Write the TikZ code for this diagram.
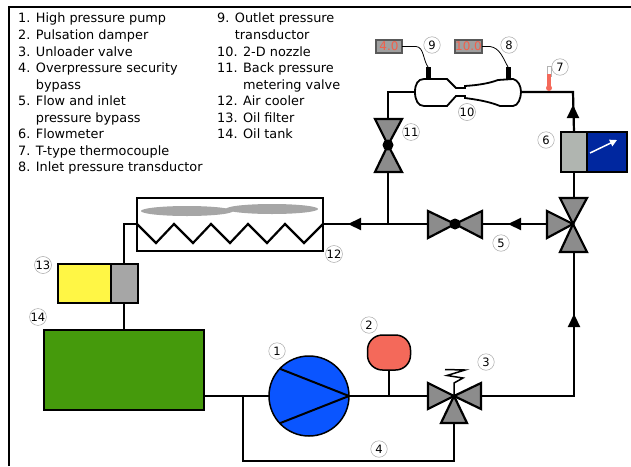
\documentclass[tikz,border=0pt]{standalone}
\usepackage{fontspec}
\setmainfont{DejaVu Sans}
\usetikzlibrary{arrows.meta,shapes.geometric}

\definecolor{valvegray}{HTML}{8C8C8C}
\definecolor{tankgreen}{HTML}{459A0C}
\definecolor{pumpblue}{HTML}{0A55FF}
\definecolor{damperred}{HTML}{F4695A}
\definecolor{meterblue}{HTML}{00279F}
\definecolor{metergray}{HTML}{B0B5B0}
\definecolor{filteryellow}{HTML}{FFF645}
\definecolor{filtergray}{HTML}{A6A6A6}
\definecolor{readoutred}{HTML}{F2604C}

\tikzset{
    pipe/.style={line width=2.2pt},
    flowhead/.style={line width=2.2pt, -{Triangle[length=13pt,width=12pt]}},
    valvepart/.style={draw, line width=2.2pt, fill=valvegray, line join=miter},
    box/.style={draw, line width=2.2pt, rectangle, inner sep=0pt, outer sep=0pt},
    readout/.style={draw=black!65, line width=1.2pt, fill=gray!75, rectangle, inner sep=0pt, outer sep=0pt,
        minimum height=13pt, text=readoutred, font=\fontsize{12}{12}\selectfont},
    numlabel/.style={draw=gray!70, line width=0.5pt, fill=white, circle, inner sep=0pt,
        minimum size=16.5pt, font=\fontsize{11.5}{11.5}\selectfont},
    legend/.style={anchor=north west, align=left, inner sep=0pt,
        font=\fontsize{12.85}{16.55}\selectfont}
}

\begin{document}
\begin{tikzpicture}[x=1pt, y=-1pt]
    \useasboundingbox (0,0) rectangle (631,466);

    % frame
    \coordinate (framebl) at (9,466);
    \coordinate (frametl) at (9,7);
    \coordinate (frametr) at (631,7);
    \draw[line width=2pt] (framebl) -- (frametl) -- (frametr);

    % legend
    \node[legend] (legendleft) at (18,13) {1. High pressure pump\\2. Pulsation damper\\3. Unloader valve\\4. Overpressure security\\\phantom{4. }bypass\\5. Flow and inlet\\\phantom{5. }pressure bypass\\6. Flowmeter\\7. T-type thermocouple\\8. Inlet pressure transductor};
    \node[legend] (legendright) at (217,13) {9. Outlet pressure\\\phantom{9. }transductor\\10. 2-D nozzle\\11. Back pressure\\\phantom{11. }metering valve\\12. Air cooler\\13. Oil filter\\14. Oil tank};

    % components
    \node[box, fill=tankgreen, minimum width=160pt, minimum height=80pt] (tank) at (124,370) {};
    \node[draw, line width=1.5pt, circle, fill=pumpblue, minimum size=80pt, inner sep=0pt, outer sep=0pt] (pump) at (309,396) {};
    \node[draw, line width=1.5pt, rectangle, rounded corners=15pt, fill=damperred, minimum width=43pt, minimum height=35pt, inner sep=0pt, outer sep=0pt] (damper) at (389,352.5) {};
    \node[box, fill=filteryellow, minimum width=53pt, minimum height=39pt] (filteroil) at (84.5,283.5) {};
    \node[box, fill=filtergray, minimum width=27pt, minimum height=39pt] (filtercore) at (124.5,283.5) {};
    \node[box, line width=2pt, minimum width=186pt, minimum height=53pt] (cooler) at (230,224.5) {};
    \node[box, fill=metergray, minimum width=26pt, minimum height=40pt] (metersensor) at (574,152) {};
    \node[box, fill=meterblue, minimum width=40pt, minimum height=40pt] (meterdial) at (607,152) {};
    \node[readout, minimum width=26pt] (readoutout) at (389,46.5) {4.0};
    \node[readout, minimum width=27pt] (readoutin) at (468.5,46.5) {10.0};

    \draw[line width=2pt] (pump.137) -- (pump.east) -- (pump.-137);
    \draw[-{Triangle[length=7pt,width=7pt]}, white, line width=1.5pt] (590,153) -- (617,140);

    % cooler fans and coil
    \node[fill=filtergray, ellipse, minimum width=92pt, minimum height=10pt, inner sep=0pt] (fanleft) at (187,211) {};
    \node[fill=filtergray, ellipse, minimum width=92pt, minimum height=10pt, inner sep=0pt] (fanright) at (272,209) {};
    \coordinate (coilin) at (323,224);
    \coordinate (coilout) at (137,224);
    \draw[pipe] (coilout) -- (156,243) -- (174,224) -- (193,243) -- (211,224) -- (230,243)
        -- (248,224) -- (267,243) -- (285,224) -- (304,243) -- (coilin);

    % valves
    \coordinate (unloader) at (454,396);
    \coordinate (bypass) at (455,224);
    \coordinate (threeway) at (573,224);
    \coordinate (backvalve) at (388,145);
    \draw[valvepart] (unloader) -- (428,383) -- (428,409) -- cycle;
    \draw[valvepart] (unloader) -- (481,383) -- (481,409) -- cycle;
    \draw[valvepart] (unloader) -- (441,423) -- (467,423) -- cycle;
    \draw[valvepart] (bypass) -- (428,211) -- (428,238) -- cycle;
    \draw[valvepart] (bypass) -- (482,211) -- (482,238) -- cycle;
    \draw[valvepart] (threeway) -- (547,211) -- (547,238) -- cycle;
    \draw[valvepart] (threeway) -- (560,198) -- (587,198) -- cycle;
    \draw[valvepart] (threeway) -- (560,252) -- (587,252) -- cycle;
    \draw[valvepart] (backvalve) -- (375,119) -- (402,119) -- cycle;
    \draw[valvepart] (backvalve) -- (375,172) -- (402,172) -- cycle;
    \fill (bypass) circle (5.5pt);
    \fill (backvalve) circle (5.5pt);
    \draw[line width=1.5pt] (unloader) -- (454,383) -- (463,378) -- (447,375.5) -- (465,370) -- (445,369.5);

    % nozzle
    \coordinate (nozzlein) at (521,92);
    \coordinate (nozzleout) at (415,92);
    \draw[line width=1.8pt, fill=white] (nozzleout) .. controls (415,84) and (418,79) .. (424,79) -- (447,79) -- (456,88) -- (465,88) -- (465,86)
        .. controls (480,85) and (490,83) .. (498,80) -- (513,79) .. controls (518,80) and (521,86) .. (nozzlein)
        .. controls (521,98) and (518,106) .. (513,106) -- (500,106) .. controls (490,102) and (480,100) .. (465,98)
        -- (465,96) -- (456,96) -- (447,106) -- (424,106) .. controls (418,106) and (415,100) .. (nozzleout) -- cycle;
    \coordinate (tapout) at (428,79);
    \coordinate (tapin) at (508,79);
    \coordinate (tapouttop) at (428,67);
    \coordinate (tapintop) at (508,67);
    \draw[line width=5pt] (tapout) -- (tapouttop);
    \draw[line width=5pt] (tapin) -- (tapintop);
    \draw[line width=0.8pt] (readoutout.east) -- (416,46.5) .. controls (424,47) and (423,60) .. (tapouttop);
    \draw[line width=0.8pt] (readoutin.east) -- (490,46.5) .. controls (500,48) and (503,58) .. (tapintop);

    % pipes
    \coordinate (bypassleft) at (243,396);
    \coordinate (bypassbl) at (243,461);
    \coordinate (bypassbr) at (454,461);
    \coordinate (unloaderright) at (574,396);
    \coordinate (topright) at (573,92);
    \coordinate (backtop) at (388,92);
    \coordinate (teeback) at (388,224);
    \coordinate (coolerbend) at (124,224);

    \draw[pipe] (pump.west -| tank.east) -- (pump.west);
    \draw[pipe] (pump.east) -- (428,396);
    \draw[pipe] (bypassleft) -- (bypassbl) -- (bypassbr) -- (454,423);
    \draw[pipe] (damper.south) -- (389,396);
    \draw[pipe] (481,396) -- (unloaderright) -- (574,252);
    \draw[pipe] (574,198) -- (metersensor.south);
    \draw[pipe] (metersensor.north) -- (topright) -- (nozzlein);
    \draw[pipe] (nozzleout) -- (backtop) -- (388,119);
    \draw[pipe] (388,172) -- (teeback);
    \draw[pipe] (547,224) -- (482,224);
    \draw[pipe] (428,224) -- (cooler.east |- coilin);
    \draw[pipe] (coilout) -- (coolerbend) -- (coolerbend |- filtercore.north);
    \draw[pipe] (coolerbend |- filtercore.south) -- (coolerbend |- tank.north);

    % flow arrows
    \coordinate (upbase) at (574,327);
    \coordinate (uptip) at (574,314);
    \coordinate (topbase) at (573,118);
    \coordinate (toptip) at (573,105);
    \coordinate (leftbase) at (521,224);
    \coordinate (lefttip) at (508,224);
    \coordinate (coolerbase) at (361,224);
    \coordinate (coolertip) at (348,224);
    \draw[flowhead] (upbase) -- (uptip);
    \draw[flowhead] (topbase) -- (toptip);
    \draw[flowhead] (leftbase) -- (lefttip);
    \draw[flowhead] (coolerbase) -- (coolertip);

    % thermocouple
    \coordinate (thermotip) at (549,88);
    \draw[gray!60, fill=white, line width=0.5pt] (547,66) rectangle (551,76);
    \fill[damperred] (547.2,74) rectangle (550.8,88);
    \fill[damperred] (thermotip) circle (3pt);

    % number labels
    \node[numlabel] (n1) at (277,351) {1};
    \node[numlabel] (n2) at (369,325) {2};
    \node[numlabel] (n3) at (486,362) {3};
    \node[numlabel] (n4) at (379,449) {4};
    \node[numlabel] (n5) at (501,243) {5};
    \node[numlabel] (n6) at (546,140) {6};
    \node[numlabel] (n7) at (560,67) {7};
    \node[numlabel] (n8) at (509,45) {8};
    \node[numlabel] (n9) at (432,45) {9};
    \node[numlabel] (n10) at (467,112) {10};
    \node[numlabel] (n11) at (411,132) {11};
    \node[numlabel] (n12) at (334,254) {12};
    \node[numlabel] (n13) at (43,265) {13};
    \node[numlabel] (n14) at (38,317) {14};
\end{tikzpicture}
\end{document}
